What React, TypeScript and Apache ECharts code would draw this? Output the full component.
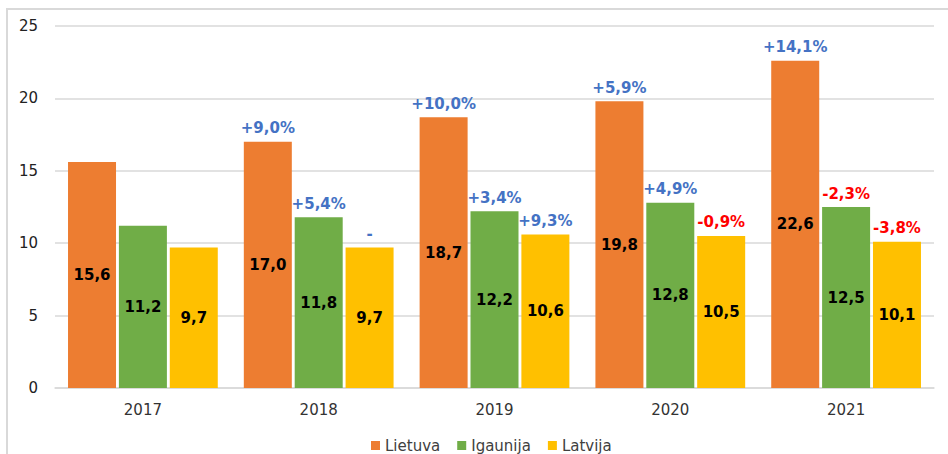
import React, { useEffect, useRef } from "react";
import * as echarts from "echarts";

const years = ["2017", "2018", "2019", "2020", "2021"];
const seriesNames = ["Lietuva", "Igaunija", "Latvija"];
const lietuva = [15.6, 17.0, 18.7, 19.8, 22.6];
const igaunija = [11.2, 11.8, 12.2, 12.8, 12.5];
const latvija = [9.7, 9.7, 10.6, 10.5, 10.1];
const pctLietuva = ["", "+9,0%", "+10,0%", "+5,9%", "+14,1%"];
const pctIgaunija = ["", "+5,4%", "+3,4%", "+4,9%", "-2,3%"];
const pctLatvija = ["", "-", "+9,3%", "-0,9%", "-3,8%"];
const colors = ["#ED7D31", "#70AD47", "#FFC000"];

const FONT = "'DejaVu Sans', Verdana, sans-serif";

export default function App() {
  const ref = useRef<HTMLDivElement>(null);
  useEffect(() => {
    if (!ref.current) return;
    const chart = echarts.init(ref.current, undefined, { renderer: "svg" });
    const values = [lietuva, igaunija, latvija];
    const pcts = [pctLietuva, pctIgaunija, pctLatvija];
    const series: any[] = [];
    values.forEach((vals, i) => {
      series.push({
        name: seriesNames[i],
        type: "bar",
        stack: "s" + i,
        data: vals,
        barWidth: 48,
        barGap: "6%",
        itemStyle: { color: colors[i] },
        label: {
          show: true,
          position: "inside",
          color: "#000",
          fontFamily: FONT,
          fontWeight: "bold",
          fontSize: 15,
          formatter: (p: any) => Number(p.value).toFixed(1).replace(".", ","),
        },
      });
      series.push({
        name: seriesNames[i] + "_pct",
        type: "bar",
        stack: "s" + i,
        data: pcts[i].map((t) => ({
          value: 0,
          label: {
            show: t !== "",
            color: t.length > 1 && t[0] === "-" ? "#FF0000" : "#4472C4",
          },
        })),
        barWidth: 48,
        barGap: "6%",
        itemStyle: { color: "transparent" },
        label: {
          show: true,
          position: "top",
          distance: 6,
          fontFamily: FONT,
          fontWeight: "bold",
          fontSize: 15,
          formatter: (p: any) => pcts[i][p.dataIndex],
        },
      });
    });
    chart.setOption({
      animation: false,
      color: colors,
      textStyle: { fontFamily: FONT },
      graphic: [
        {
          type: "rect",
          shape: { x: 7, y: 9, width: 1000, height: 600 },
          style: { fill: "none", stroke: "#D9D9D9", lineWidth: 2 },
          silent: true,
          z: -10,
        },
      ],
      grid: { left: 55, right: 14, top: 26, bottom: 66 },
      legend: {
        data: seriesNames,
        top: 433,
        left: 366,
        itemWidth: 9,
        itemHeight: 9,
        itemGap: 17,
        icon: "rect",
        textStyle: { fontFamily: FONT, fontSize: 15, color: "#404040" },
      },
      xAxis: {
        type: "category",
        data: years,
        axisLine: { lineStyle: { color: "#D9D9D9", width: 1.5 } },
        axisTick: { show: false },
        axisLabel: { fontFamily: FONT, fontSize: 15, color: "#333", margin: 14 },
      },
      yAxis: {
        type: "value",
        min: 0,
        max: 25,
        interval: 5,
        axisLine: { show: false },
        axisTick: { show: false },
        splitLine: { lineStyle: { color: "#D9D9D9", width: 1.5 } },
        axisLabel: { fontFamily: FONT, fontSize: 15, color: "#222", margin: 17 },
      },
      series,
    });
    return () => chart.dispose();
  }, []);
  return (
    <div
      ref={ref}
      style={{ position: "fixed", left: 0, top: 0, width: 948, height: 454, background: "#fff" }}
    />
  );
}
